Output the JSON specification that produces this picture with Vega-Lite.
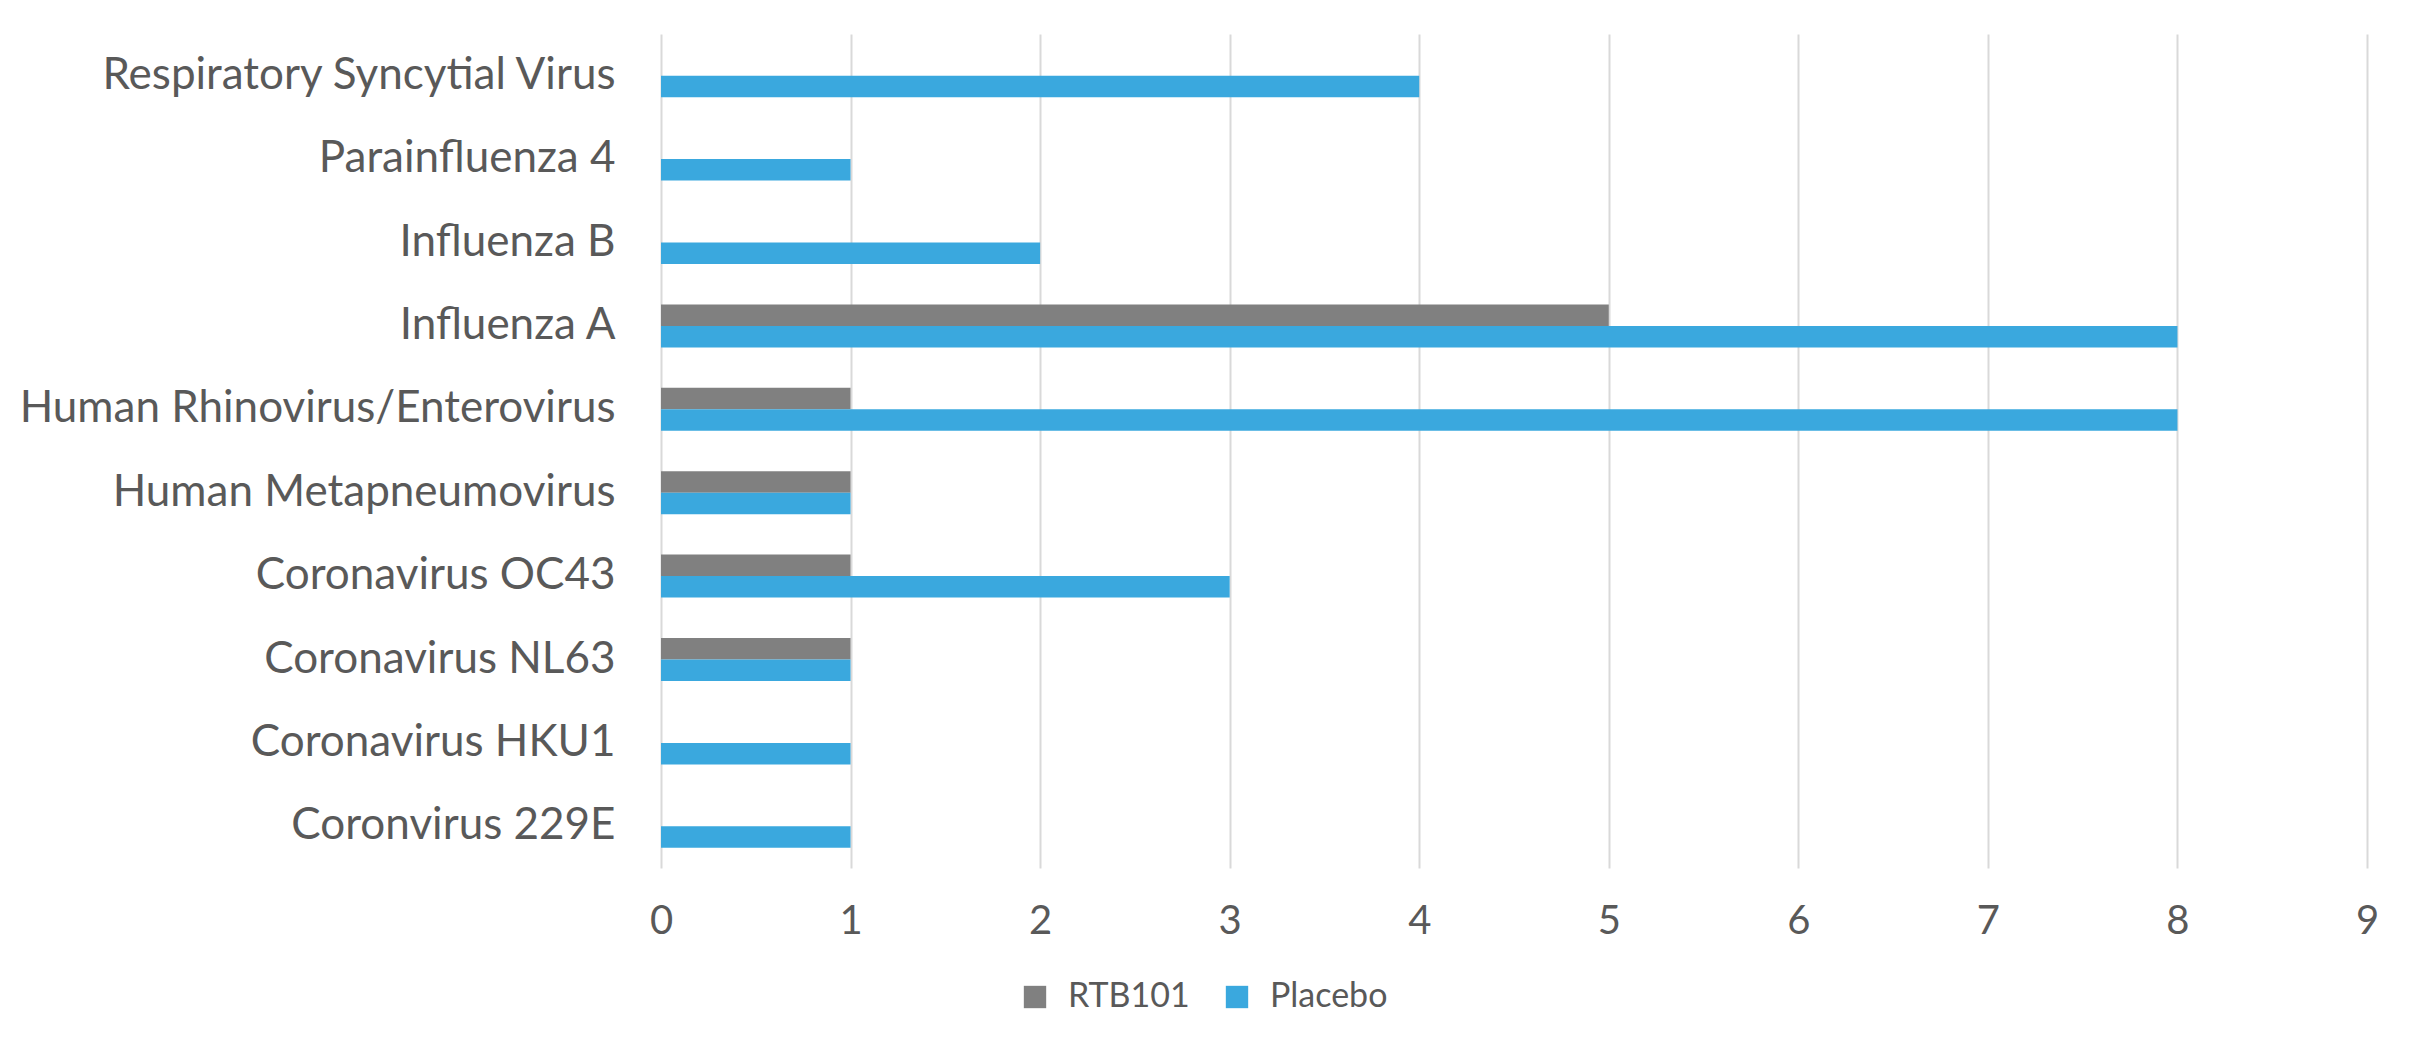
{
  "$schema": "https://vega.github.io/schema/vega-lite/v6.json",
  "autosize": {"type": "none"},
  "width": 1706,
  "height": 834,
  "padding": {"left": 661, "top": 34, "right": 43, "bottom": 177},
  "background": "white",
  "config": {
    "view": {"stroke": null},
    "font": "Lato",
    "axis": {"labelFont": "Lato", "labelColor": "#595959"},
    "legend": {"labelFont": "Lato", "labelColor": "#595959"}
  },
  "data": {
    "values": [
      {"virus": "Respiratory Syncytial Virus", "group": "RTB101", "count": 0},
      {"virus": "Respiratory Syncytial Virus", "group": "Placebo", "count": 4},
      {"virus": "Parainfluenza 4", "group": "RTB101", "count": 0},
      {"virus": "Parainfluenza 4", "group": "Placebo", "count": 1},
      {"virus": "Influenza B", "group": "RTB101", "count": 0},
      {"virus": "Influenza B", "group": "Placebo", "count": 2},
      {"virus": "Influenza A", "group": "RTB101", "count": 5},
      {"virus": "Influenza A", "group": "Placebo", "count": 8},
      {"virus": "Human Rhinovirus/Enterovirus", "group": "RTB101", "count": 1},
      {"virus": "Human Rhinovirus/Enterovirus", "group": "Placebo", "count": 8},
      {"virus": "Human Metapneumovirus", "group": "RTB101", "count": 1},
      {"virus": "Human Metapneumovirus", "group": "Placebo", "count": 1},
      {"virus": "Coronavirus OC43", "group": "RTB101", "count": 1},
      {"virus": "Coronavirus OC43", "group": "Placebo", "count": 3},
      {"virus": "Coronavirus NL63", "group": "RTB101", "count": 1},
      {"virus": "Coronavirus NL63", "group": "Placebo", "count": 1},
      {"virus": "Coronavirus HKU1", "group": "RTB101", "count": 0},
      {"virus": "Coronavirus HKU1", "group": "Placebo", "count": 1},
      {"virus": "Coronvirus 229E", "group": "RTB101", "count": 0},
      {"virus": "Coronvirus 229E", "group": "Placebo", "count": 1}
    ]
  },
  "mark": {"type": "bar"},
  "encoding": {
    "y": {
      "field": "virus",
      "type": "nominal",
      "sort": null,
      "scale": {"paddingInner": 0.484, "paddingOuter": 0.242},
      "axis": {
        "title": null,
        "domain": false,
        "ticks": false,
        "grid": false,
        "labelFontSize": 44,
        "labelPadding": 46,
        "labelLimit": 700
      }
    },
    "yOffset": {
      "field": "group",
      "type": "nominal",
      "sort": ["RTB101", "Placebo"],
      "scale": {"paddingInner": 0, "paddingOuter": 0}
    },
    "x": {
      "field": "count",
      "type": "quantitative",
      "scale": {"domain": [0, 9], "nice": false},
      "axis": {
        "title": null,
        "values": [0, 1, 2, 3, 4, 5, 6, 7, 8, 9],
        "domain": false,
        "ticks": false,
        "grid": true,
        "gridColor": "#d9d9d9",
        "gridWidth": 2,
        "labelFontSize": 40,
        "labelPadding": 33,
        "labelFlush": false
      }
    },
    "color": {
      "field": "group",
      "type": "nominal",
      "scale": {"domain": ["RTB101", "Placebo"], "range": ["#808080", "#3AA8DE"]},
      "legend": {
        "title": null,
        "orient": "none",
        "direction": "horizontal",
        "legendX": 357,
        "legendY": 946,
        "symbolType": "square",
        "symbolSize": 500,
        "symbolStrokeWidth": 0,
        "labelFontSize": 34,
        "labelOffset": 16,
        "columnPadding": 30
      }
    }
  }
}
